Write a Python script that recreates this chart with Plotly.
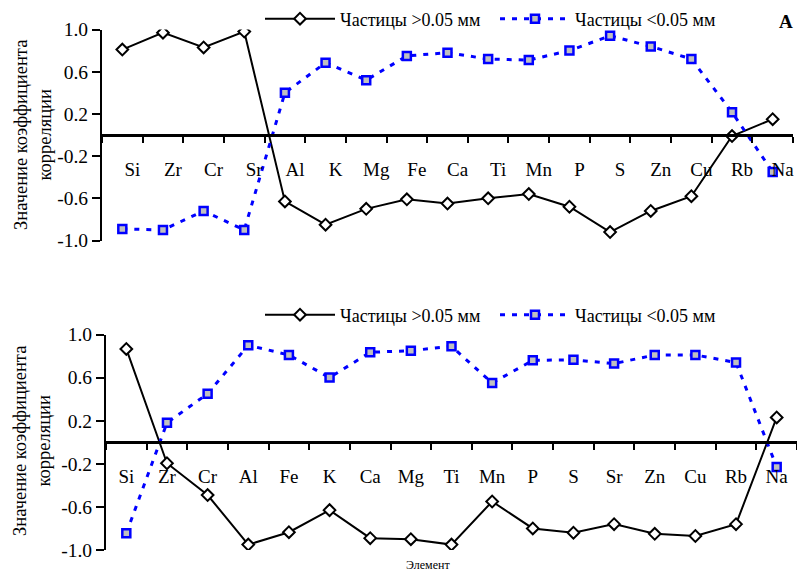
import plotly.graph_objects as go

# --- data ---
cats_top = ["Si", "Zr", "Cr", "Sr", "Al", "K", "Mg", "Fe", "Ca", "Ti", "Mn", "P", "S", "Zn", "Cu", "Rb", "Na"]
coarse_top = [0.81, 0.97, 0.83, 0.98, -0.63, -0.85, -0.70, -0.61, -0.65, -0.60, -0.56, -0.68, -0.92, -0.72, -0.58, -0.01, 0.15]
fine_top = [-0.89, -0.90, -0.72, -0.90, 0.40, 0.685, 0.52, 0.75, 0.78, 0.72, 0.71, 0.80, 0.94, 0.84, 0.72, 0.215, -0.35]

cats_bot = ["Si", "Zr", "Cr", "Al", "Fe", "K", "Ca", "Mg", "Ti", "Mn", "P", "S", "Sr", "Zn", "Cu", "Rb", "Na"]
coarse_bot = [0.866, -0.195, -0.49, -0.95, -0.835, -0.63, -0.89, -0.90, -0.95, -0.55, -0.80, -0.84, -0.76, -0.85, -0.87, -0.76, 0.23]
fine_bot = [-0.845, 0.18, 0.45, 0.90, 0.81, 0.60, 0.835, 0.85, 0.89, 0.55, 0.76, 0.765, 0.73, 0.81, 0.81, 0.74, -0.23]

name_coarse = "Частицы >0.05 мм"
name_fine = "Частицы <0.05 мм"
ytick_vals = [1.0, 0.6, 0.2, -0.2, -0.6, -1.0]
ytick_text = ["1.0", "0.6", "0.2", "-0.2", "-0.6", "-1.0"]

FONT = "Liberation Serif"
W, H = 797, 574

def px(x):
    return x / W

def py(y):
    return 1 - y / H

fig = go.Figure()

def add_pair(cats, coarse, fine, xa, ya, legend):
    fig.add_trace(go.Scatter(
        x=cats, y=coarse, name=name_coarse, mode="lines+markers",
        line=dict(color="black", width=2),
        marker=dict(symbol="diamond", size=9, color="white", line=dict(color="black", width=2)),
        xaxis=xa, yaxis=ya, legend=legend))
    fig.add_trace(go.Scatter(
        x=cats, y=fine, name=name_fine, mode="lines+markers",
        line=dict(color="#0000ff", width=3, dash="5px,7px"),
        marker=dict(symbol="square", size=8, color="#c0c0c0", line=dict(color="#0000ff", width=2.5)),
        xaxis=xa, yaxis=ya, legend=legend))

add_pair(cats_top, coarse_top, fine_top, "x", "y", "legend")
add_pair(cats_bot, coarse_bot, fine_bot, "x2", "y2", "legend2")

# geometry (pixels)
top = dict(x0=102, x1=793, y_top=29.5, y_bot=240.5)
bot = dict(x0=106, x1=797, y_top=334.5, y_bot=550)

def yaxis_cfg(g, anchor):
    return dict(domain=[py(g["y_bot"]), py(g["y_top"])], range=[-1, 1], anchor=anchor,
                tickvals=ytick_vals, ticktext=ytick_text,
                showline=True, linecolor="black", linewidth=2,
                ticks="outside", ticklen=8, tickwidth=2, tickcolor="black",
                showgrid=False, zeroline=False,
                tickfont=dict(family=FONT, size=19.5, color="black"))

def xaxis_cfg(g, shift):
    zero = py((g["y_top"] + g["y_bot"]) / 2)
    return dict(domain=[px(g["x0"]), px(g["x1"])], anchor="free", position=zero,
                type="category", range=[-0.5, 16.5],
                showline=True, linecolor="black", linewidth=2.5,
                ticks="outside", tickson="boundaries", ticklen=6, tickwidth=2, tickcolor="black",
                showgrid=False, zeroline=False, ticklabelstandoff=16, ticklabelshift=shift,
                tickfont=dict(family=FONT, size=19, color="black"))

legend_common = dict(orientation="h", xanchor="left", yanchor="middle",
                     font=dict(family=FONT, size=18, color="black"),
                     bgcolor="rgba(0,0,0,0)", itemwidth=70, tracegroupgap=0,
                     entrywidthmode="pixels", entrywidth=150)

fig.update_layout(
    width=W, height=H,
    margin=dict(l=0, r=0, t=0, b=0, pad=0, autoexpand=False),
    paper_bgcolor="white", plot_bgcolor="white",
    showlegend=True,
    xaxis=xaxis_cfg(top, 10), yaxis=yaxis_cfg(top, "x"),
    xaxis2=xaxis_cfg(bot, 0), yaxis2=yaxis_cfg(bot, "x2"),
    legend=dict(x=px(260), y=py(19), **legend_common),
    legend2=dict(x=px(260), y=py(315), **legend_common),
    annotations=[
        dict(text="Значение коэффициента<br>корреляции", textangle=-90,
             x=px(33), y=py(135), xref="paper", yref="paper", showarrow=False,
             xanchor="center", yanchor="middle",
             font=dict(family=FONT, size=18.5, color="black")),
        dict(text="Значение коэффициента<br>корреляции", textangle=-90,
             x=px(32), y=py(441), xref="paper", yref="paper", showarrow=False,
             xanchor="center", yanchor="middle",
             font=dict(family=FONT, size=18.5, color="black")),
        dict(text="<b>A</b>", x=px(786), y=py(21), xref="paper", yref="paper",
             showarrow=False, xanchor="center", yanchor="middle",
             font=dict(family=FONT, size=19, color="black")),
        dict(text="Элемент", x=px(428), y=py(565), xref="paper", yref="paper",
             showarrow=False, xanchor="center", yanchor="middle",
             font=dict(family=FONT, size=12, color="black")),
    ],
)

fig.write_html("out.html")
